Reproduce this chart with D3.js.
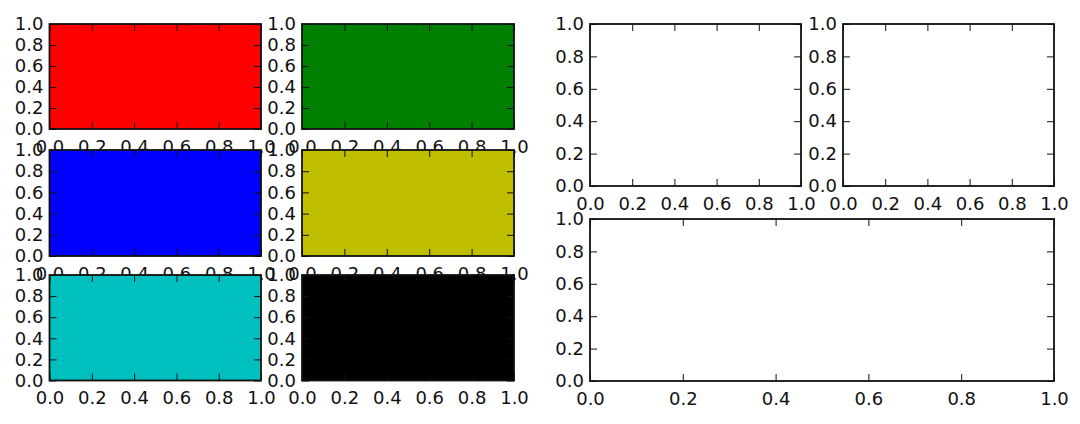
<!DOCTYPE html>
<html>
<head>
<meta charset="utf-8">
<script src="https://cdn.jsdelivr.net/npm/d3@7"></script>
<style>
  body { margin: 0; background: #fff; }
  svg text { font-family: "DejaVu Sans", sans-serif; font-size: 18px; fill: #111; }
</style>
</head>
<body>
<div id="chart"></div>
<script>
// tick values shared by every panel
var tickValues = [0.0, 0.2, 0.4, 0.6, 0.8, 1.0];
var axisDomain = [0, 1];

// left figure: 3x2 grid, one fill colour per subplot
var gridNames = ["r", "g", "b", "y", "c", "k"];
var gridColors = ["#ff0000", "#008000", "#0000ff", "#bfbf00", "#00bfbf", "#000000"];

// right figure: two small panels on top, one wide panel below (all empty)
var rightNames = ["top-left", "top-right", "bottom"];

var svg = d3.select("#chart")
    .append("svg")
    .attr("width", 1080)
    .attr("height", 424);

svg.append("rect").attr("width", 1080).attr("height", 424).attr("fill", "#fff");

// panel boxes (pixel layout of the subplots)
var gridCols = [[49.5, 261], [302, 514]];
var gridRows = [[24, 129], [150, 256], [275, 380.5]];
var rightBoxes = [
    { x0: 590, x1: 801, y0: 24, y1: 186 },
    { x0: 843, x1: 1054, y0: 24, y1: 186 },
    { x0: 590, x1: 1054, y0: 219, y1: 381 }
];

function drawPanel(box, fill) {
    var g = svg.append("g").attr("transform", "translate(" + box.x0 + "," + box.y0 + ")");
    var w = box.x1 - box.x0, h = box.y1 - box.y0;

    var x = d3.scaleLinear().domain(axisDomain).range([0, w]);
    var y = d3.scaleLinear().domain(axisDomain).range([h, 0]);

    g.append("rect")
        .attr("width", w)
        .attr("height", h)
        .attr("fill", fill);

    var fmt = d3.format(".1f");

    // bottom & left with labels, ticks pointing inward
    g.append("g")
        .attr("transform", "translate(0," + h + ")")
        .call(d3.axisBottom(x).tickValues(tickValues).tickSize(-7).tickPadding(11).tickFormat(fmt));
    g.append("g")
        .call(d3.axisLeft(y).tickValues(tickValues).tickSize(-7).tickPadding(6).tickFormat(fmt));
    // top & right, ticks only
    g.append("g")
        .call(d3.axisTop(x).tickValues(tickValues).tickSize(-7).tickFormat(""));
    g.append("g")
        .attr("transform", "translate(" + w + ",0)")
        .call(d3.axisRight(y).tickValues(tickValues).tickSize(-7).tickFormat(""));

    g.selectAll(".domain").remove();
    g.selectAll(".tick line").attr("stroke", "#111").attr("stroke-width", 1);
    g.selectAll("g").attr("font-size", null).attr("font-family", null);

    g.append("rect")
        .attr("width", w)
        .attr("height", h)
        .attr("fill", "none")
        .attr("stroke", "#111")
        .attr("stroke-width", 1.8);
}

gridNames.forEach(function (name, i) {
    var c = gridCols[i % 2], r = gridRows[Math.floor(i / 2)];
    drawPanel({ x0: c[0], x1: c[1], y0: r[0], y1: r[1] }, gridColors[i]);
});

rightNames.forEach(function (name, i) {
    drawPanel(rightBoxes[i], "#fff");
});
</script>
</body>
</html>
